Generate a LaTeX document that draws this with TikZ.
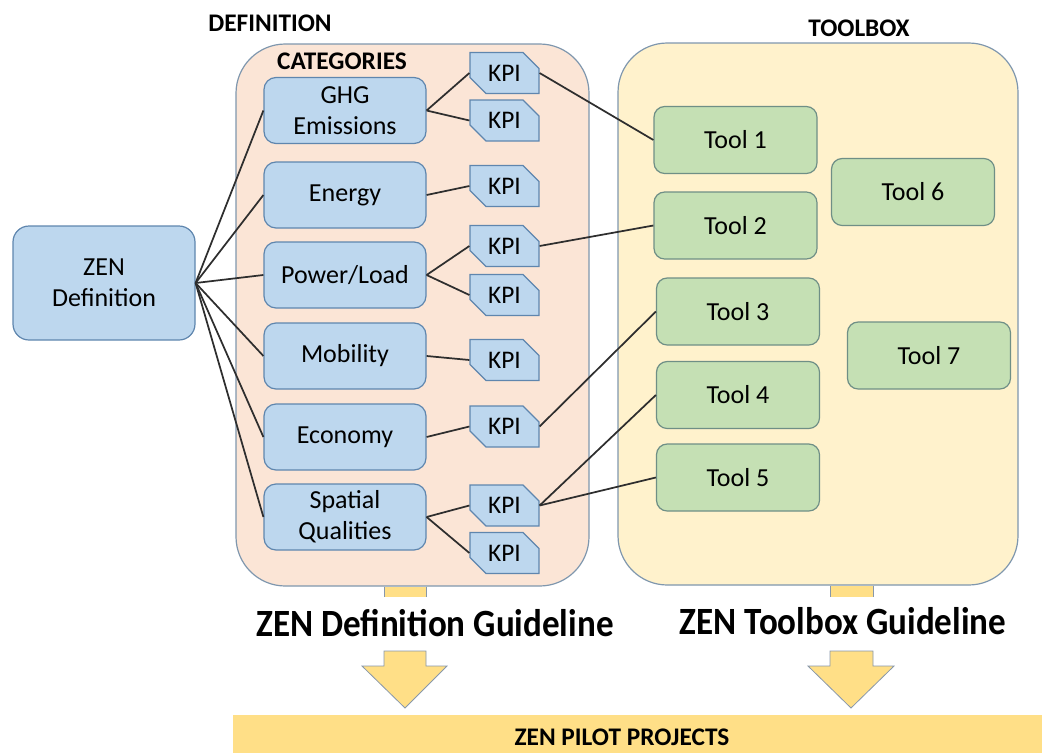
\documentclass[tikz,border=0pt]{standalone}
\usepackage{fontspec}
\setmainfont{Carlito}
\usetikzlibrary{shapes.misc}
\definecolor{peach}{HTML}{FBE5D6}
\definecolor{cream}{HTML}{FFF2CC}
\definecolor{contborder}{HTML}{7F97AE}
\definecolor{bluefill}{HTML}{BDD7EE}
\definecolor{blueborder}{HTML}{5F86AE}
\definecolor{greenfill}{HTML}{C5E0B4}
\definecolor{greenborder}{HTML}{6F8F86}
\definecolor{arrowfill}{HTML}{FFDF87}
\definecolor{arrowborder}{HTML}{8797AA}
\definecolor{linecol}{HTML}{2E2E2E}
\begin{document}
\begin{tikzpicture}[x=0.75pt,y=-0.75pt,
  container/.style={draw=contborder, line width=0.9pt, rounded corners=37pt},
  catbox/.style={draw=blueborder, fill=bluefill, rounded corners=9pt, line width=0.9pt,
    minimum width=121.5pt, minimum height=49.5pt, inner sep=0pt, align=center,
    font=\fontsize{19.5}{23}\selectfont},
  zenbox/.style={catbox, minimum width=136.5pt, minimum height=85.5pt, rounded corners=12pt},
  kpibox/.style={chamfered rectangle, chamfered rectangle corners={north east,south west},
    chamfered rectangle sep=6pt, draw=blueborder, fill=bluefill, line width=0.9pt,
    minimum width=51.75pt, minimum height=30.75pt, inner sep=0pt,
    font=\fontsize{19}{22}\selectfont},
  toolnode/.style={draw=greenborder, fill=greenfill, rounded corners=8pt, line width=0.9pt,
    minimum width=122.25pt, minimum height=50.25pt, inner sep=0pt,
    font=\fontsize{19.5}{23}\selectfont},
  headlbl/.style={font=\fontsize{19}{23}\selectfont\bfseries, inner sep=0pt},
  guidelbl/.style={font=\fontsize{26.3}{32}\selectfont\bfseries, inner sep=0pt},
  link/.style={draw=linecol, line width=1.3pt},
  blockarrow/.style={fill=arrowfill, draw=arrowborder, line width=0.6pt}
]
\useasboundingbox (0,0) rectangle (1042,753);

% containers
\draw[container, fill=peach] (236,44) rectangle (589,586);
\draw[container, fill=cream] (618,43) rectangle (1018,585);

% headings
\node[headlbl] (hdef) at (270,23) {DEFINITION};
\node[headlbl] (hcat) at (342,61) {CATEGORIES};
\node[headlbl] (htool) at (859,28) {TOOLBOX};

% ZEN definition
\node[zenbox] (zen) at (104,283) {ZEN\\Definition};

% categories
\node[catbox] (c1) at (345,110.5) {GHG\\Emissions};
\node[catbox] (c2) at (345,195) {Energy};
\node[catbox] (c3) at (345,275) {Power/Load};
\node[catbox] (c4) at (345,356) {Mobility};
\node[catbox] (c5) at (345,437) {Economy};
\node[catbox] (c6) at (345,517) {Spatial\\Qualities};

% KPIs
\node[kpibox] (k1) at (504.5,73) {KPI};
\node[kpibox] (k2) at (504.5,120.5) {KPI};
\node[kpibox] (k3) at (504.5,186) {KPI};
\node[kpibox] (k4) at (504.5,246) {KPI};
\node[kpibox] (k5) at (504.5,295) {KPI};
\node[kpibox] (k6) at (504.5,360) {KPI};
\node[kpibox] (k7) at (504.5,426.5) {KPI};
\node[kpibox] (k8) at (504.5,505.5) {KPI};
\node[kpibox] (k9) at (504.5,553) {KPI};

% tools
\node[toolnode] (t1) at (735.5,140) {Tool 1};
\node[toolnode] (t2) at (735.5,225.5) {Tool 2};
\node[toolnode] (t3) at (738,311.5) {Tool 3};
\node[toolnode] (t4) at (738,395) {Tool 4};
\node[toolnode] (t5) at (738,477.5) {Tool 5};
\node[toolnode] (t6) at (913,192) {Tool 6};
\node[toolnode] (t7) at (929,355.5) {Tool 7};

% connectors
\foreach \c in {c1,c2,c3,c4,c5,c6} \draw[link] (zen.east) -- (\c.west);
\draw[link] (c1.east) -- (k1.west);
\draw[link] (c1.east) -- (k2.west);
\draw[link] (c2.east) -- (k3.west);
\draw[link] (c3.east) -- (k4.west);
\draw[link] (c3.east) -- (k5.west);
\draw[link] (c4.east) -- (k6.west);
\draw[link] (c5.east) -- (k7.west);
\draw[link] (c6.east) -- (k8.west);
\draw[link] (c6.east) -- (k9.west);
\draw[link] (k1.east) -- (t1.west);
\draw[link] (k4.east) -- (t2.west);
\draw[link] (k7.east) -- (t3.west);
\draw[link] (k8.east) -- (t4.west);
\draw[link] (k8.east) -- (t5.west);

% guideline labels
\node[guidelbl] (gdef) at (435,623) {\scalebox{1}[1.1]{ZEN Definition Guideline}};
\node[guidelbl] (gtool) at (843,621) {\scalebox{1}[1.1]{ZEN Toolbox Guideline}};

% block arrows
\fill[arrowfill] (384,586.5) rectangle (426,597);
\draw[arrowborder, line width=0.6pt] (384,586.5) -- (384,597) (426,586.5) -- (426,597);
\draw[blockarrow] (384,651) -- (426,651) -- (426,666) -- (447,666) -- (405,708) -- (362,666) -- (384,666) -- cycle;
\fill[arrowfill] (830,585.5) rectangle (873,597);
\draw[arrowborder, line width=0.6pt] (830,585.5) -- (830,597) (873,585.5) -- (873,597);
\draw[blockarrow] (830,651) -- (873,651) -- (873,666) -- (894,666) -- (851,708) -- (808,666) -- (830,666) -- cycle;

% pilot bar
\fill[arrowfill] (233,715) rectangle (1042,753);
\node[headlbl] (pilot) at (622,737) {ZEN PILOT PROJECTS};
\end{tikzpicture}
\end{document}
